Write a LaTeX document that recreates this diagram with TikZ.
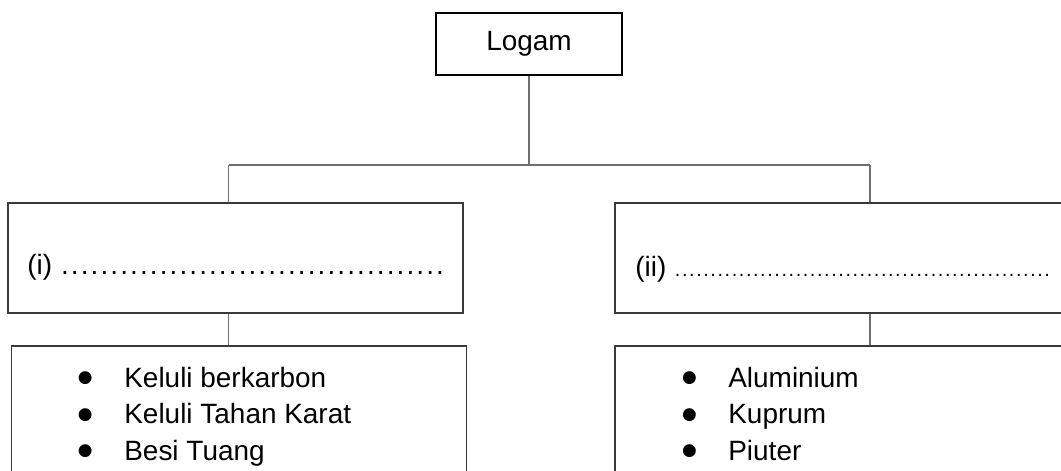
\documentclass[tikz,border=0pt]{standalone}
\usepackage{fontspec}
\setmainfont{Liberation Sans}
\newfontfamily\symfont{DejaVu Sans}
\definecolor{boxline}{HTML}{3A3A3A}
\definecolor{linkline}{HTML}{6E6E6E}
\newcommand{\bodysize}{\fontsize{15.9}{19}\selectfont}
\newcommand{\dotrow}[2]{\makebox[#1][l]{\xleaders\hbox to #2{\hss.\hss}\hfill}}
\newcommand{\bulletmark}{\makebox[0.78cm][c]{\raisebox{0.09cm}{\symfont\fontsize{9.6}{9.6}\selectfont ●}}\hspace{0.39cm}}
\tikzset{
  box/.style={draw=boxline, line width=0.6pt, minimum width=9.1cm,
              minimum height=2.2cm, inner sep=0pt},
  rootbox/.style={draw=black, line width=1.2pt, minimum width=3.72cm,
                  minimum height=1.24cm, font=\bodysize},
  listbox/.style={box, minimum height=2.9cm},
  itemtext/.style={font=\bodysize, inner sep=0pt, anchor=base west},
  link/.style={draw=linkline, line width=0.7pt},
}

\begin{document}
\begin{tikzpicture}
    \useasboundingbox (0,0) rectangle (21.22,-9.42);
    \node[rootbox] (logam) at (10.58,-0.88) {Logam};
    \node[box] (boxI) at (4.71,-5.16) {};
    \node[box, minimum width=9.5cm] (boxII) at (17.05,-5.16) {};
    \node[listbox] (listI) at (4.78,-8.37) {};
    \node[listbox, minimum width=9.5cm] (listII) at (17.05,-8.37) {};
    \node[itemtext] (askI) at (0.54,-5.5) {(i) \dotrow{7.7cm}{0.194cm}};
    \node[itemtext] (askII) at (12.7,-5.52) {(ii) {\fontsize{11.3}{11.3}\selectfont\dotrow{7.53cm}{0.142cm}}};
    \node[itemtext] (i1) at (1.31,-7.74) {\bulletmark Keluli berkarbon};
    \node[itemtext] (i2) at (1.31,-8.47) {\bulletmark Keluli Tahan Karat};
    \node[itemtext] (i3) at (1.31,-9.2) {\bulletmark Besi Tuang};
    \node[itemtext] (ii1) at (13.39,-7.74) {\bulletmark Aluminium};
    \node[itemtext] (ii2) at (13.39,-8.47) {\bulletmark Kuprum};
    \node[itemtext] (ii3) at (13.39,-9.2) {\bulletmark Piuter};
    \coordinate (mid) at (10.58,-3.3);
    \coordinate (jL) at (4.57,-3.3);
    \coordinate (jR) at (17.4,-3.3);
    \draw[link] (logam.south) -- (mid);
    \draw[link] (jL) -- (jR);
    \draw[link] (jL) -- (jL |- boxI.north);
    \draw[link] (jR) -- (jR |- boxII.north);
    \draw[link] (boxI.south -| jL) -- (listI.north -| jL);
    \draw[link] (boxII.south -| jR) -- (listII.north -| jR);
  \end{tikzpicture}
\end{document}
